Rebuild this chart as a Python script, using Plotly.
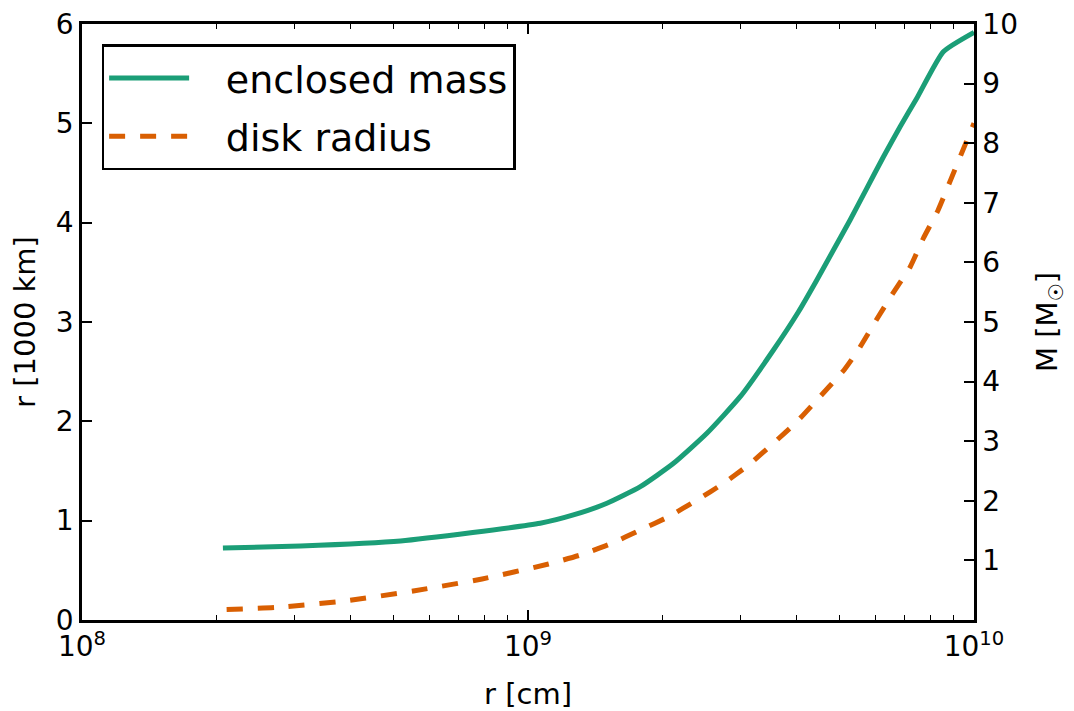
import plotly.graph_objects as go

# enclosed mass (right axis, M_sun)
mass_r_cm = [2.07e8, 3.09e8, 5.18e8, 1.065e9, 1.264e9, 1.503e9, 1.786e9, 2.120e9, 2.518e9,
             2.991e9, 3.551e9, 4.038e9, 4.443e9, 4.841e9, 5.275e9, 5.749e9, 6.266e9,
             6.828e9, 7.443e9, 8.535e9, 1.00e10]
mass_msun = [1.208, 1.242, 1.326, 1.622, 1.762, 1.958, 2.237, 2.629, 3.133,
             3.747, 4.530, 5.168, 5.705, 6.208, 6.711, 7.243, 7.773,
             8.277, 8.753, 9.535, 9.860]

# disk radius (left axis, 1000 km)
disk_r_cm = [2.11e8, 2.72e8, 3.87e8, 5.53e8, 7.89e8, 1.112e9, 1.310e9, 1.528e9, 1.786e9,
             2.066e9, 2.392e9, 2.744e9, 3.121e9, 3.549e9, 4.006e9, 4.479e9, 5.114e9,
             5.500e9, 6.096e9, 6.543e9, 7.197e9, 7.700e9, 8.312e9, 8.832e9, 9.378e9, 1.00e10]
disk_radius = [0.106, 0.126, 0.191, 0.292, 0.413, 0.564, 0.654, 0.765, 0.906,
               1.040, 1.208, 1.376, 1.560, 1.779, 1.996, 2.232, 2.517,
               2.718, 3.050, 3.272, 3.557, 3.843, 4.128, 4.413, 4.698, 5.000]

x_major = [1e8, 1e9, 1e10]
x_major_text = ["10<sup>8</sup>", "10<sup>9</sup>", "10<sup>10</sup>"]
x_minor = [k * 10**e for e in (8, 9) for k in range(2, 10)]
left_ticks = [0, 1, 2, 3, 4, 5, 6]
right_ticks = [1, 2, 3, 4, 5, 6, 7, 8, 9, 10]

GREEN = "#1b9e77"
ORANGE = "#d95f02"
FONT = "DejaVu Sans"
GAP = "\u00a0\u00a0\u2009"

fig = go.Figure()
fig.add_trace(go.Scatter(x=mass_r_cm, y=mass_msun, mode="lines", name=GAP + "enclosed mass",
                         yaxis="y2", legendgroup="a",
                         line=dict(color=GREEN, width=5, shape="spline", smoothing=0.5)))
fig.add_trace(go.Scatter(x=disk_r_cm, y=disk_radius, mode="lines", name=GAP + "disk radius",
                         yaxis="y", legendgroup="b",
                         line=dict(color=ORANGE, width=5, dash="16px,15px",
                                   shape="spline", smoothing=0.5)))

axis_common = dict(showline=True, linecolor="black", linewidth=2.5, ticks="inside",
                   ticklen=10, tickwidth=1.5, tickcolor="black", showgrid=False,
                   zeroline=False, automargin=False, ticklabeloverflow="allow",
                   tickfont=dict(size=28))

# the page body has an 8px margin: compensate so the plot area sits like the reference
fig.update_layout(
    width=1066, height=703,
    margin=dict(l=73.5, r=100, t=16, b=91, autoexpand=False),
    paper_bgcolor="white", plot_bgcolor="white",
    font=dict(family=FONT, size=28, color="black"),
    showlegend=True,
    legend=dict(x=0.022, y=0.966, xanchor="left", yanchor="top",
                bgcolor="white", bordercolor="black", borderwidth=2.5,
                font=dict(size=38, family=FONT), itemwidth=80,
                traceorder="grouped", tracegroupgap=6),
    xaxis=dict(type="log", range=[8, 10], mirror="ticks",
               tickvals=x_major, ticktext=x_major_text,
               minor=dict(tickvals=x_minor, ticks="inside", ticklen=5, tickwidth=1.2,
                          tickcolor="black", showgrid=False),
               title=dict(text="r [cm]", font=dict(size=29), standoff=22),
               **axis_common),
    yaxis=dict(range=[0, 6], tickvals=left_ticks,
               title=dict(text="r [1000 km]", font=dict(size=29), standoff=19),
               **axis_common),
    yaxis2=dict(range=[0, 10], overlaying="y", side="right", tickvals=right_ticks,
                title=dict(text="M [M<sub>☉</sub>]", font=dict(size=29), standoff=20),
                **axis_common),
)

fig.write_html("out.html")
